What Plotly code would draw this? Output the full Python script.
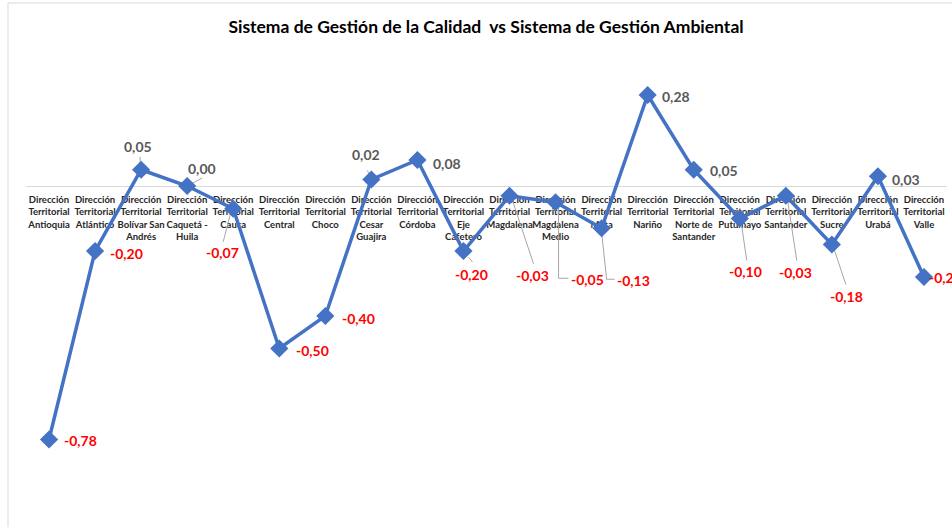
import plotly.graph_objects as go

# Territorial offices (axis categories, wrapped as they appear under the axis)
categories = [
    "Dirección<br>Territorial<br>Antioquia",
    "Dirección<br>Territorial<br>Atlántico",
    "Dirección<br>Territorial<br>Bolívar San<br>Andrés",
    "Dirección<br>Territorial<br>Caquetá -<br>Huila",
    "Dirección<br>Territorial<br>Cauca",
    "Dirección<br>Territorial<br>Central",
    "Dirección<br>Territorial<br>Choco",
    "Dirección<br>Territorial<br>Cesar<br>Guajira",
    "Dirección<br>Territorial<br>Córdoba",
    "Dirección<br>Territorial<br>Eje<br>Cafetero",
    "Dirección<br>Territorial<br>Magdalena",
    "Dirección<br>Territorial<br>Magdalena<br>Medio",
    "Dirección<br>Territorial<br>Meta",
    "Dirección<br>Territorial<br>Nariño",
    "Dirección<br>Territorial<br>Norte de<br>Santander",
    "Dirección<br>Territorial<br>Putumayo",
    "Dirección<br>Territorial<br>Santander",
    "Dirección<br>Territorial<br>Sucre",
    "Dirección<br>Territorial<br>Urabá",
    "Dirección<br>Territorial<br>Valle",
]

# Difference: Calidad vs Ambiental
values = [-0.78, -0.20, 0.05, 0.00, -0.07, -0.50, -0.40, 0.02, 0.08, -0.20,
          -0.03, -0.05, -0.13, 0.28, 0.05, -0.10, -0.03, -0.18, 0.03, -0.28]

title_text = "Sistema de Gestión de la Calidad  vs Sistema de Gestión Ambiental"

# ---- layout geometry (pixels) ----
W, H = 952, 527
ML, MR, MT, MB = 26, 5, 60, 7
ZERO_PX = 186          # vertical pixel of the zero line
PX_PER_UNIT = 325.0    # vertical pixels per unit of value
CAT_GAP_PX = 10        # gap between zero line and category names
plot_h = H - MT - MB
plot_w = W - ML - MR
n = len(categories)
px_per_cat = plot_w / n
y_top = (ZERO_PX - MT) / PX_PER_UNIT
y_bot = -(MT + plot_h - ZERO_PX) / PX_PER_UNIT

xs = list(range(n))

# data-label placement: (dx, dy) pixel offset of label centre from its point
label_offsets = [
    (31, 1), (31, 2), (-3, -23), (15, -18), (-11, 44), (33, 2), (33, 2),
    (-5, -25), (30, 3), (8, 23), (23, 80), (32, 77), (32, 52), (28, 1),
    (30, 1), (6, 53), (10, 77), (15, 52), (28, 3), (22, 0),
]
# leader lines: polyline pixel offsets from the point (None = no leader)
leaders = [
    None, None, [(-1, -4), (-1, -13)], [(4, -2), (15, -8)], [(-3, 6), (-10, 33)],
    None, None, [(-1, -3), (-4, -9)], None, [(5, 6), (9, 11)],
    [(3, 5), (24, 68)], [(3, 4), (3, 76), (13, 76)], [(0, 4), (5, 51), (13, 51)],
    None, None, [(2, 8), (7, 42)], [(2, 6), (11, 65)], [(2, 4), (14, 40)],
    None, None,
]

fig = go.Figure()

# category names sit just under the zero line, beneath the series
fig.add_trace(go.Scatter(
    x=xs, y=[-CAT_GAP_PX / PX_PER_UNIT] * n, mode="text", text=categories,
    textposition="bottom center",
    textfont=dict(family="Lato", size=9.5, color="#262626", weight="bold"),
    hoverinfo="skip", showlegend=False,
))

# leader lines for the displaced data labels
lx, ly = [], []
for i, (v, pts) in enumerate(zip(values, leaders)):
    if not pts:
        continue
    for dx, dy in pts:
        lx.append(i + dx / px_per_cat)
        ly.append(v - dy / PX_PER_UNIT)
    lx.append(None)
    ly.append(None)
fig.add_trace(go.Scatter(
    x=lx, y=ly, mode="lines", line=dict(color="#a6a6a6", width=1),
    hoverinfo="skip", showlegend=False,
))

# main series
fig.add_trace(go.Scatter(
    x=xs, y=values, mode="lines+markers",
    line=dict(color="#4472C4", width=3.5),
    marker=dict(symbol="diamond", size=14, color="#4472C4"),
    showlegend=False,
))

# value labels
for i, v in enumerate(values):
    dx, dy = label_offsets[i]
    txt = f"{v:.2f}".replace(".", ",")
    fig.add_annotation(
        x=i, y=v, xref="x", yref="y", text=txt, showarrow=False,
        xshift=dx, yshift=-dy, xanchor="center", yanchor="middle",
        font=dict(family="Lato", size=14, weight="bold",
                  color="#FF0000" if v < 0 else "#595959"),
    )

# chart frame
fig.add_shape(
    type="rect", xref="paper", yref="paper",
    x0=(8 - ML) / plot_w, x1=(W + 20 - ML) / plot_w,
    y0=-(MB + 20) / plot_h, y1=1 + (MT - 3) / plot_h,
    line=dict(color="#d9d9d9", width=1), fillcolor="rgba(0,0,0,0)", layer="below",
)

fig.update_layout(
    width=W, height=H,
    margin=dict(l=ML, r=MR, t=MT, b=MB),
    paper_bgcolor="white", plot_bgcolor="white",
    title=dict(text=title_text, xref="container", yref="container",
               x=486 / W, y=1 - 27 / H, xanchor="center", yanchor="middle",
               font=dict(family="Lato", size=17.5, color="#000000", weight="bold")),
    xaxis=dict(range=[-0.5, n - 0.5], showgrid=False, zeroline=False,
               showticklabels=False, showline=False, fixedrange=True),
    yaxis=dict(range=[y_bot, y_top], showgrid=False, zeroline=True,
               zerolinecolor="#d9d9d9", zerolinewidth=1,
               showticklabels=False, showline=False, fixedrange=True),
)

fig.write_html("out.html")
